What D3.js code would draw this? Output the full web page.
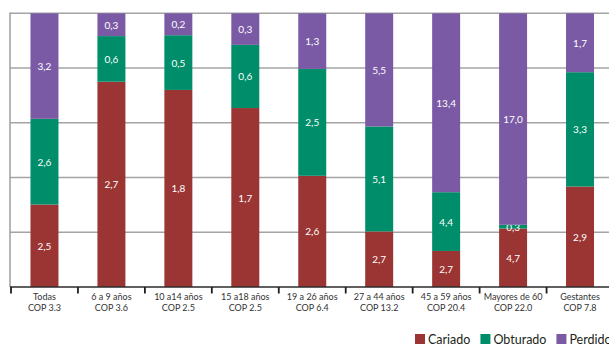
<!DOCTYPE html>
<html>
<head>
<meta charset="utf-8">
<script src="https://cdn.jsdelivr.net/npm/d3@7"></script>
<style>
  html, body { margin: 0; padding: 0; background: #fff; }
  svg { display: block; }
</style>
</head>
<body>
<svg id="chart" width="609" height="345"></svg>
<script>
// Age groups and their COP index
const groups = ["Todas", "6 a 9 años", "10 a14 años", "15 a18 años", "19 a 26 años",
                "27 a 44 años", "45 a 59 años", "Mayores de 60", "Gestantes"];
const copLabels = ["COP 3.3", "COP 3.6", "COP 2.5", "COP 2.5", "COP 6.4",
                   "COP 13.2", "COP 20.4", "COP 22.0", "COP 7.8"];

// Component values per group
const cariado  = [2.5, 2.7, 1.8, 1.7, 2.6, 2.7, 2.7, 4.7, 2.9];
const obturado = [2.6, 0.6, 0.5, 0.6, 2.5, 5.1, 4.4, 0.3, 3.3];
const perdido  = [3.2, 0.3, 0.2, 0.3, 1.3, 5.5, 13.4, 17.0, 1.7];

const seriesNames = ["Cariado", "Obturado", "Perdido"];
const seriesColors = ["#9b3533", "#008d69", "#7b5aa5"];
const gridTicks = [0, 0.2, 0.4, 0.6, 0.8, 1];

const rows = groups.map((g, i) => ({
  group: g, Cariado: cariado[i], Obturado: obturado[i], Perdido: perdido[i]
}));

const svg = d3.select("#chart");
const font = "Lato, 'Open Sans', sans-serif";

const x = d3.scaleBand()
  .domain(groups)
  .range([11, 613.5])
  .paddingInner(0.582)
  .paddingOuter(0.291);

const y = d3.scaleLinear().domain([0, 1]).range([287, 13.3]);

// Stack normalised to 100% per group
const stack = d3.stack()
  .keys(seriesNames)
  .offset(d3.stackOffsetExpand);
const layers = stack(rows);

// Horizontal gridlines
svg.append("g")
  .selectAll("line")
  .data(gridTicks.slice(1))
  .join("line")
  .attr("x1", 10).attr("x2", 609)
  .attr("y1", d => y(d)).attr("y2", d => y(d))
  .attr("stroke", "#a4a4a4")
  .attr("stroke-width", 1.6);

// Left frame line
svg.append("line")
  .attr("x1", 10).attr("x2", 10)
  .attr("y1", y(1) - 0.8).attr("y2", y(0))
  .attr("stroke", "#a4a4a4")
  .attr("stroke-width", 1.6);

// Bars
const layerG = svg.append("g")
  .selectAll("g")
  .data(layers)
  .join("g")
  .attr("fill", (d, i) => seriesColors[i]);

layerG.selectAll("rect")
  .data(d => d)
  .join("rect")
  .attr("x", d => x(d.data.group))
  .attr("width", x.bandwidth())
  .attr("y", d => y(d[1]))
  .attr("height", d => y(d[0]) - y(d[1]));

// Value labels
layerG.each(function(layer) {
  const key = layer.key;
  d3.select(this).selectAll("text")
    .data(layer)
    .join("text")
    .attr("x", d => x(d.data.group) + x.bandwidth() / 2)
    .attr("y", d => (y(d[0]) + y(d[1])) / 2)
    .attr("text-anchor", "middle")
    .attr("dominant-baseline", "central")
    .attr("fill", "#ffffff")
    .attr("font-family", font)
    .attr("font-size", 10)
    .text(d => d3.format(".1f")(d.data[key]).replace(".", ","));
});

// Bottom axis with ticks at group boundaries
const step = x.step();
const boundaries = groups.map(g => x(g) - step * x.paddingInner() / 2)
  .concat([x(groups[groups.length - 1]) + x.bandwidth() + step * x.paddingInner() / 2]);

svg.append("line")
  .attr("x1", 10).attr("x2", 609)
  .attr("y1", y(0)).attr("y2", y(0))
  .attr("stroke", "#2b2b2b")
  .attr("stroke-width", 1.5);

svg.append("g")
  .selectAll("line")
  .data(boundaries)
  .join("line")
  .attr("x1", d => d).attr("x2", d => d)
  .attr("y1", y(0)).attr("y2", y(0) + 6.5)
  .attr("stroke", "#1e1e1e")
  .attr("stroke-width", 1.8);

const labelG = svg.append("g")
  .attr("font-family", font)
  .attr("font-size", 9)
  .attr("fill", "#333333")
  .attr("text-anchor", "middle");

labelG.selectAll("text.g")
  .data(groups)
  .join("text")
  .attr("class", "g")
  .attr("x", d => x(d) + x.bandwidth() / 2)
  .attr("y", 299.5)
  .text(d => d);

labelG.selectAll("text.c")
  .data(copLabels)
  .join("text")
  .attr("class", "c")
  .attr("x", (d, i) => x(groups[i]) + x.bandwidth() / 2)
  .attr("y", 310.5)
  .text(d => d);

// Legend
const legend = svg.append("g").attr("font-family", font).attr("font-size", 12.5);
let lx = 415;
seriesNames.forEach((name, i) => {
  legend.append("rect")
    .attr("x", lx).attr("y", 334)
    .attr("width", 10).attr("height", 10)
    .attr("fill", seriesColors[i]);
  const t = legend.append("text")
    .attr("x", lx + 13).attr("y", 344)
    .attr("fill", "#231f20")
    .text(name);
  lx += 13 + t.node().getComputedTextLength() + 10;
});
</script>
</body>
</html>
